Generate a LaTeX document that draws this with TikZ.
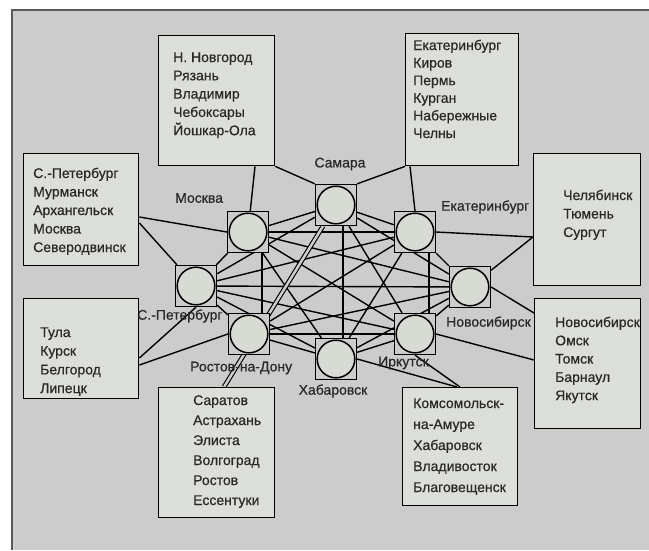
\documentclass[tikz,border=0pt]{standalone}
\usepackage{fontspec}
\setmainfont[FakeBold=0.6]{Liberation Sans}
\usetikzlibrary{calc}
\definecolor{bggray}{RGB}{204,204,204}
\definecolor{boxfill}{RGB}{220,223,217}
\definecolor{circfill}{RGB}{215,219,211}
\definecolor{framegray}{RGB}{90,90,90}
\definecolor{inkgray}{RGB}{40,40,40}
\pgfdeclarelayer{backdrop}
\pgfdeclarelayer{wires}
\pgfsetlayers{backdrop,wires,main}
% a left-aligned list of cities; #1 is the line pitch
\newcommand\citylist[2]{{\fontsize{14}{#1}\selectfont\begin{tabular}[t]{@{}l@{}}#2\end{tabular}}}
\begin{document}
\begin{tikzpicture}[x=1pt,y=-1pt,
  hub/.style={rectangle, draw=black, line width=1.3pt, fill=bggray,
    minimum size=41pt, inner sep=0pt,
    path picture={\draw[line width=1.5pt, fill=circfill]
      (path picture bounding box.center) circle (18.8pt);}},
  region/.style={rectangle, draw=black, line width=1.4pt, fill=boxfill,
    anchor=north west, inner sep=0pt},
  list/.style={anchor=base west, inner sep=0pt, text=inkgray},
  tag/.style={font=\fontsize{14}{16}\selectfont, inner sep=0pt, text=inkgray},
  wire/.style={line width=1.4pt, draw=black},
  twin/.style={double=bggray, double distance=2.5pt, line width=1.1pt, draw=black}
]
\useasboundingbox (0,0) rectangle (649,550);

% panel behind everything
\begin{pgfonlayer}{backdrop}
  \fill[bggray] (12,10) rectangle (649,550);
  \draw[framegray, line width=1.2pt] (649,10) -- (12,10) -- (12,550);
\end{pgfonlayer}

% regional boxes
\node[region, minimum width=116pt, minimum height=130pt] (b1) at (158,35) {};
\node[region, minimum width=113pt, minimum height=132pt] (b2) at (405,33) {};
\node[region, minimum width=115pt, minimum height=112pt] (b3) at (23,153) {};
\node[region, minimum width=107pt, minimum height=132pt] (b4) at (533,153) {};
\node[region, minimum width=115pt, minimum height=100pt] (b5) at (23,298) {};
\node[region, minimum width=106pt, minimum height=130pt] (b6) at (534,298) {};
\node[region, minimum width=116pt, minimum height=130pt] (b7) at (158,387) {};
\node[region, minimum width=115pt, minimum height=118pt] (b8) at (402,387) {};

\node[list] (t1) at (173,62) {\citylist{18.3pt}{Н. Новгород\\Рязань\\Владимир\\Чебоксары\\Йошкар-Ола}};
\node[list] (t2) at (413,50) {\citylist{17.6pt}{Екатеринбург\\Киров\\Пермь\\Курган\\Набережные\\Челны}};
\node[list] (t3) at (33,178) {\citylist{18.5pt}{С.-Петербург\\Мурманск\\Архангельск\\Москва\\Северодвинск}};
\node[list] (t4) at (563,200) {\citylist{18.5pt}{Челябинск\\Тюмень\\Сургут}};
\node[list] (t5) at (40,337) {\citylist{18.7pt}{Тула\\Курск\\Белгород\\Липецк}};
\node[list] (t6) at (555,327) {\citylist{18.3pt}{Новосибирск\\Омск\\Томск\\Барнаул\\Якутск}};
\node[list] (t7) at (193,405) {\citylist{20pt}{Саратов\\Астрахань\\Элиста\\Волгоград\\Ростов\\Ессентуки}};
\node[list] (t8) at (413,408) {\citylist{21pt}{Комсомольск-\\на-Амуре\\Хабаровск\\Владивосток\\Благовещенск}};

% backbone hubs
\node[hub] (mos) at (248,232) {};
\node[hub] (sam) at (336,205) {};
\node[hub] (ekb) at (415,232) {};
\node[hub] (spb) at (196,286) {};
\node[hub] (nov) at (470,287) {};
\node[hub] (rst) at (249,334) {};
\node[hub] (kha) at (336,359) {};
\node[hub] (irk) at (415,334) {};

% hub names
\node[tag, anchor=west] (lmos) at (175,198) {Москва};
\node[tag] (lsam) at (340,164) {Самара};
\node[tag, anchor=west] (lekb) at (441,207) {Екатеринбург};
\node[tag, anchor=west] (lspb) at (137,316) {С.-Петербург};
\node[tag, anchor=west] (lnov) at (446,323) {Новосибирск};
\node[tag, anchor=west] (lrst) at (190,368) {Ростов-на-Дону};
\node[tag] (lkha) at (333,391) {Хабаровск};
\node[tag, anchor=west] (lirk) at (378,363) {Иркутск};

\begin{pgfonlayer}{wires}
  % full mesh between the hubs
  \foreach \a/\b in {mos/sam, mos/ekb, mos/spb, mos/nov, mos/kha, mos/irk,
      sam/ekb, sam/spb, sam/nov, sam/irk, ekb/spb, ekb/nov, ekb/rst, ekb/kha,
      spb/nov, spb/rst, spb/kha, spb/irk, nov/rst, nov/kha, nov/irk,
      rst/kha, rst/irk, kha/irk}
    \draw[wire] (\a) -- (\b);
  \draw[wire] ($(mos.center)+(14,0)$) -- ($(rst.center)+(13,0)$);
  \draw[wire] ($(ekb.center)+(14,0)$) -- ($(irk.center)+(14,0)$);
  \draw[wire] ($(sam.center)+(7,0)$) -- ($(kha.center)+(7,0)$);
  % hubs to their regions
  \draw[wire] ($(b1.south west)+(97,0)$) -- (mos);
  \draw[wire] (b1.south east) -- (sam.north west);
  \draw[wire] (b2.south west) -- (sam.north east);
  \draw[wire] ($(b2.south west)+(5,0)$) -- (ekb.north);
  \draw[wire] ($(b3.north east)+(0,64)$) -- (mos.west);
  \draw[wire] ($(b3.north east)+(0,70)$) -- (spb);
  \draw[wire] ($(b4.north west)+(0,84)$) -- (ekb.east);
  \draw[wire] ($(b4.north west)+(0,84)$) -- (nov);
  \draw[wire] ($(b5.north east)+(0,60)$) -- (spb.south);
  \draw[wire] ($(b5.north east)+(0,67)$) -- (rst.west);
  \draw[wire] ($(b6.north west)+(0,15)$) -- (nov.east);
  \draw[wire] ($(b6.north west)+(0,62)$) -- (irk.east);
  \draw[twin] (sam) -- ($(b7.north west)+(66,0)$);
  \draw[wire] ($(b8.north west)+(55,0)$) -- (kha.east);
  \draw[wire] ($(b8.north west)+(58,0)$) -- (irk.south);
\end{pgfonlayer}
\end{tikzpicture}
\end{document}
